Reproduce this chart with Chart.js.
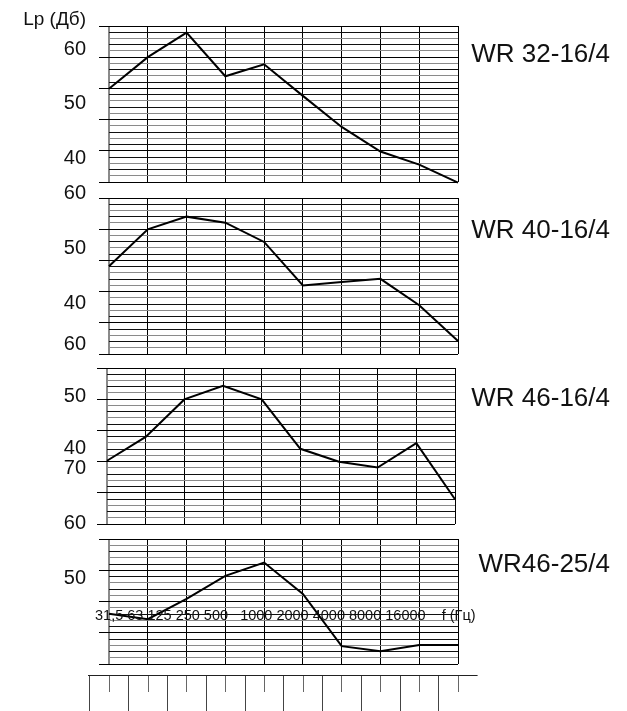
<!DOCTYPE html>
<html>
<head>
<meta charset="utf-8">
<script src="https://cdn.jsdelivr.net/npm/chart.js@4.4.1/dist/chart.umd.min.js"></script>
<style>
  html, body { margin: 0; padding: 0; background: #fff; }
  body { position: relative; width: 627px; height: 711px; overflow: hidden; }
  canvas { position: absolute; left: 0; }
</style>
</head>
<body>
<canvas id="c1" width="627" height="195" style="top:0px"></canvas>
<canvas id="c2" width="627" height="180" style="top:183px"></canvas>
<canvas id="c3" width="627" height="200" style="top:333px"></canvas>
<canvas id="c4" width="627" height="215" style="top:455px"></canvas>
<canvas id="c5" width="627" height="51" style="top:660px"></canvas>
<script>
// octave band centres, Hz
var freqs = ['31,5', '63', '125', '250', '500', '1000', '2000', '4000', '8000', '16000'];

// sound power level per band, dB
var wr32_16 = [52.7, 58.5, 63.0, 55.0, 57.2, 51.4, 45.7, 41.2, 38.8, 35.5];
var wr40_16 = [46.7, 53.4, 55.7, 54.6, 51.1, 43.2, 43.8, 44.4, 39.6, 33.1];
var wr46_16 = [37.6, 42.2, 49.4, 52.0, 49.4, 39.9, 37.4, 36.3, 41.0, 30.2];
var wr46_25 = [43.5, 42.5, 46.2, 50.4, 52.8, 47.1, 37.6, 36.7, 37.8, 37.8];

var titles = ['WR 32-16/4', 'WR 40-16/4', 'WR 46-16/4', 'WR46-25/4'];

// y tick labels of each panel
var yLabels1 = [60, 50, 40];
var yLabels2 = [60, 50, 40];
var yLabels3 = [60, 50, 40];
var yLabels4 = [70, 60, 50];

var yUnit = 'Lp (Дб)';
var xUnit = 'f (Гц)';

var FONT = '"Liberation Sans", Arial, sans-serif';

var panelText = {
    id: 'panelText',
    afterDraw: function (chart, args, o) {
        var ctx = chart.ctx, area = chart.chartArea, y = chart.scales.y;
        ctx.save();
        ctx.fillStyle = '#111';
        ctx.textAlign = 'right';
        ctx.textBaseline = 'middle';
        ctx.font = '20px ' + FONT;
        o.yLabels.forEach(function (v) {
            ctx.fillText(String(v), 86, y.getPixelForValue(v));
        });
        ctx.font = '26px ' + FONT;
        ctx.fillText(o.title, 610, area.top + o.titleDy);
        if (o.unit) {
            ctx.font = '19px ' + FONT;
            ctx.fillText(o.unit, 86, area.top - 6);
        }
        if (o.xRow) {
            ctx.textAlign = 'left';
            ctx.font = '14.5px ' + FONT;
            ctx.fillText(o.xRow, 95, area.top + 77);
        }
        ctx.restore();
    }
};

function evenTicks(n) {
    return function (scale) {
        var t = [];
        for (var i = 0; i <= n; i++) t.push({ value: scale.min + i * (scale.max - scale.min) / n });
        scale.ticks = t;
    };
}

function panel(id, values, p) {
    var canvas = document.getElementById(id);
    return new Chart(canvas, {
        type: 'line',
        data: {
            labels: freqs,
            datasets: [{
                data: values,
                borderColor: '#000',
                borderWidth: 2,
                pointRadius: 0,
                tension: 0,
                clip: false
            }]
        },
        plugins: [panelText],
        options: {
            responsive: false,
            animation: false,
            devicePixelRatio: 1,
            layout: {
                autoPadding: false,
                padding: { left: p.left - 10, right: 627 - p.right, top: p.top, bottom: canvas.height - p.bottom }
            },
            plugins: {
                legend: { display: false },
                tooltip: { enabled: false },
                panelText: { yLabels: p.yLabels, title: p.title, titleDy: p.titleDy, unit: p.unit, xRow: p.xRow }
            },
            scales: {
                x: {
                    ticks: { display: false },
                    border: { display: false },
                    grid: {
                        drawTicks: false,
                        color: function (c) { return c.index === 0 ? '#8a8a8a' : '#000'; },
                        lineWidth: function (c) { return c.index === 0 ? 2 : 1; }
                    }
                },
                y: {
                    min: p.yMin,
                    max: p.yMax,
                    afterBuildTicks: evenTicks(p.lines),
                    ticks: { display: false },
                    border: { display: false },
                    grid: {
                        drawTicks: true,
                        tickLength: 10,
                        color: function (c) {
                            if (c.index % 5 === 0) return '#000';
                            return c.index % 2 ? '#8a8a8a' : '#111';
                        },
                        tickColor: function (c) { return c.index % 5 === 0 ? '#000' : 'rgba(0,0,0,0)'; }
                    }
                }
            }
        }
    });
}

panel('c1', wr32_16, { left: 109, right: 458, top: 26, bottom: 182, yMin: 35.60, yMax: 64.22, lines: 25,
    yLabels: yLabels1, title: titles[0], titleDy: 28.5, unit: yUnit });
panel('c2', wr40_16, { left: 109, right: 458, top: 15, bottom: 171, yMin: 30.73, yMax: 59.09, lines: 25,
    yLabels: yLabels2, title: titles[1], titleDy: 33 });
panel('c3', wr46_16, { left: 107, right: 455, top: 35, bottom: 191, yMin: 25.44, yMax: 55.44, lines: 25,
    yLabels: yLabels3, title: titles[2], titleDy: 31 });
panel('c4', wr46_25, { left: 109, right: 458, top: 84, bottom: 209, yMin: 34.36, yMax: 57.09, lines: 20,
    yLabels: yLabels4, title: titles[3], titleDy: 26,
    xRow: freqs.slice(0, 5).join(' ') + '   ' + freqs.slice(5).join(' ') + '    ' + xUnit });

// frequency ruler under the last panel
var rulerLong = [-0.5, 0.5, 1.5, 2.5, 3.5, 4.5, 5.5, 6.5, 7.5, 8.5];
var rulerShort = [0, 1, 2, 3, 4, 5, 6, 7, 8, 9];

new Chart(document.getElementById('c5'), {
    type: 'line',
    data: { datasets: [] },
    options: {
        responsive: false,
        animation: false,
        devicePixelRatio: 1,
        layout: { autoPadding: false, padding: { left: 88, right: 149.4, top: 15, bottom: 0 } },
        plugins: { legend: { display: false }, tooltip: { enabled: false } },
        scales: {
            x: {
                type: 'linear', min: -0.55, max: 9.5, position: 'bottom',
                afterBuildTicks: function (s) { s.ticks = rulerLong.map(function (v) { return { value: v }; }); },
                ticks: { display: false },
                border: { display: false },
                grid: { color: '#444', drawTicks: true, tickLength: 19, tickColor: '#444' }
            },
            x2: {
                type: 'linear', min: -0.55, max: 9.5, position: 'bottom',
                afterBuildTicks: function (s) { s.ticks = rulerShort.map(function (v) { return { value: v }; }); },
                ticks: { display: false },
                border: { display: false },
                grid: { color: '#666', drawTicks: false }
            },
            y: {
                type: 'linear', min: 0, max: 1,
                afterBuildTicks: function (s) { s.ticks = [{ value: 1 }]; },
                ticks: { display: false },
                border: { display: false },
                grid: { color: '#222', drawTicks: false }
            }
        }
    }
});
</script>
</body>
</html>
